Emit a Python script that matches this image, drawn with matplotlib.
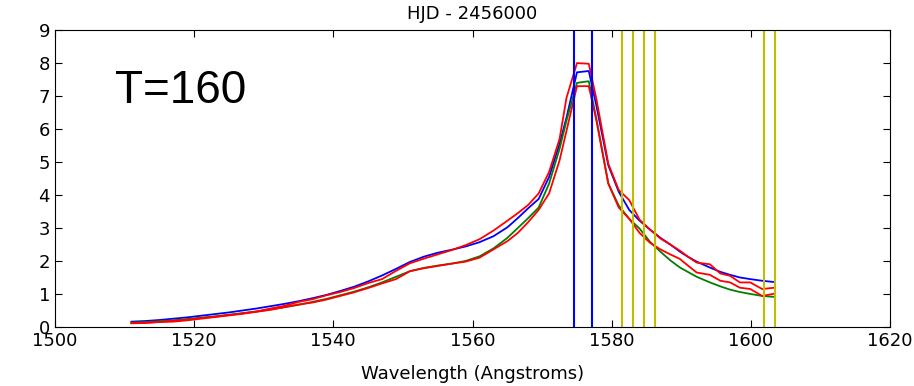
import matplotlib
matplotlib.use('Agg')
import matplotlib.pyplot as plt

# wavelengths (Angstroms) shared by all curves
wl = [1511, 1513, 1515, 1517, 1519, 1521, 1523, 1525, 1527, 1529, 1531, 1533,
      1535, 1537, 1539, 1541, 1543, 1545, 1547, 1549, 1551, 1553, 1555, 1557,
      1559, 1561, 1563, 1565, 1566.5, 1568, 1569.5, 1571, 1572.5, 1573.5, 1575,
      1576.7, 1577.8, 1579.5, 1581, 1582.5, 1584, 1585.5, 1587, 1588.4, 1589.8,
      1591, 1592.2, 1594.1, 1595.6, 1597, 1598.4, 1599.9, 1601.6, 1603.4]

flux_blue = [0.16, 0.18, 0.21, 0.25, 0.29, 0.34, 0.39, 0.44, 0.50, 0.56, 0.63, 0.70,
             0.78, 0.87, 0.97, 1.09, 1.22, 1.38, 1.56, 1.76, 1.97, 2.13, 2.25, 2.34,
             2.44, 2.57, 2.75, 3.02, 3.30, 3.60, 3.88, 4.55, 5.55, 6.35, 7.72,
             7.76, 6.70, 4.90, 4.10, 3.55, 3.22, 2.95, 2.70, 2.50, 2.28,
             2.12, 1.98, 1.80, 1.67, 1.58, 1.50, 1.45, 1.40, 1.36]

flux_green = [0.13, 0.15, 0.17, 0.20, 0.24, 0.28, 0.32, 0.37, 0.42, 0.47, 0.53, 0.60,
              0.67, 0.76, 0.85, 0.96, 1.07, 1.20, 1.35, 1.52, 1.69, 1.79, 1.86, 1.92,
              2.00, 2.14, 2.38, 2.70, 3.00, 3.30, 3.62, 4.35, 5.40, 6.26, 7.40,
              7.45, 6.30, 4.35, 3.68, 3.28, 2.98, 2.58, 2.28, 2.02, 1.80,
              1.66, 1.52, 1.35, 1.23, 1.13, 1.06, 1.00, 0.94, 0.91]

flux_red_a = [0.12, 0.13, 0.15, 0.19, 0.22, 0.27, 0.31, 0.36, 0.41, 0.47, 0.56, 0.64,
              0.76, 0.84, 0.96, 1.06, 1.18, 1.33, 1.45, 1.70, 1.93, 2.07, 2.20, 2.33,
              2.48, 2.66, 2.92, 3.22, 3.45, 3.70, 4.05, 4.70, 5.70, 6.95, 8.00,
              7.98, 6.90, 4.95, 4.15, 3.85, 3.25, 2.95, 2.68, 2.50, 2.31,
              2.12, 1.95, 1.90, 1.62, 1.55, 1.35, 1.35, 1.15, 1.19]

flux_red_b = [0.11, 0.12, 0.15, 0.16, 0.20, 0.25, 0.30, 0.35, 0.40, 0.46, 0.52, 0.60,
              0.68, 0.74, 0.83, 0.94, 1.05, 1.18, 1.32, 1.45, 1.69, 1.78, 1.85, 1.92,
              1.98, 2.10, 2.35, 2.60, 2.85, 3.18, 3.55, 4.05, 5.05, 5.95, 7.30,
              7.30, 6.25, 4.35, 3.62, 3.28, 2.85, 2.55, 2.35, 2.20, 2.06,
              1.85, 1.65, 1.58, 1.40, 1.35, 1.19, 1.15, 0.94, 1.01]

blue_marks = [1574.6, 1577.2]
yellow_marks = [1581.5, 1583.0, 1584.6, 1586.2, 1601.9, 1603.4]

fig = plt.figure(figsize=(9.14, 3.86), dpi=100)
ax = fig.add_axes([0.060, 0.153, 0.914, 0.769])

ax.plot(wl, flux_blue, color='b', lw=1.3)
ax.plot(wl, flux_green, color='g', lw=1.3)
ax.plot(wl, flux_red_a, color='r', lw=1.3)
ax.plot(wl, flux_red_b, color='r', lw=1.3)

for x in blue_marks:
    ax.axvline(x, color='b', lw=1.5)
for x in yellow_marks:
    ax.axvline(x, color='y', lw=1.5)

ax.set_xlim(1500, 1620)
ax.set_ylim(0, 9)
ax.set_xticks(range(1500, 1621, 20))
ax.set_yticks(range(0, 10))
ax.tick_params(direction='in', top=True, right=True, labelsize=13, length=5)
ax.set_xlabel('Wavelength (Angstroms)', fontsize=13, labelpad=11)
ax.set_title('HJD - 2456000', fontsize=13, pad=8)

ax.text(1508.6, 6.8, 'T=160', fontsize=33, family='Liberation Sans', va='baseline')

fig.savefig('out.png', dpi=100)
